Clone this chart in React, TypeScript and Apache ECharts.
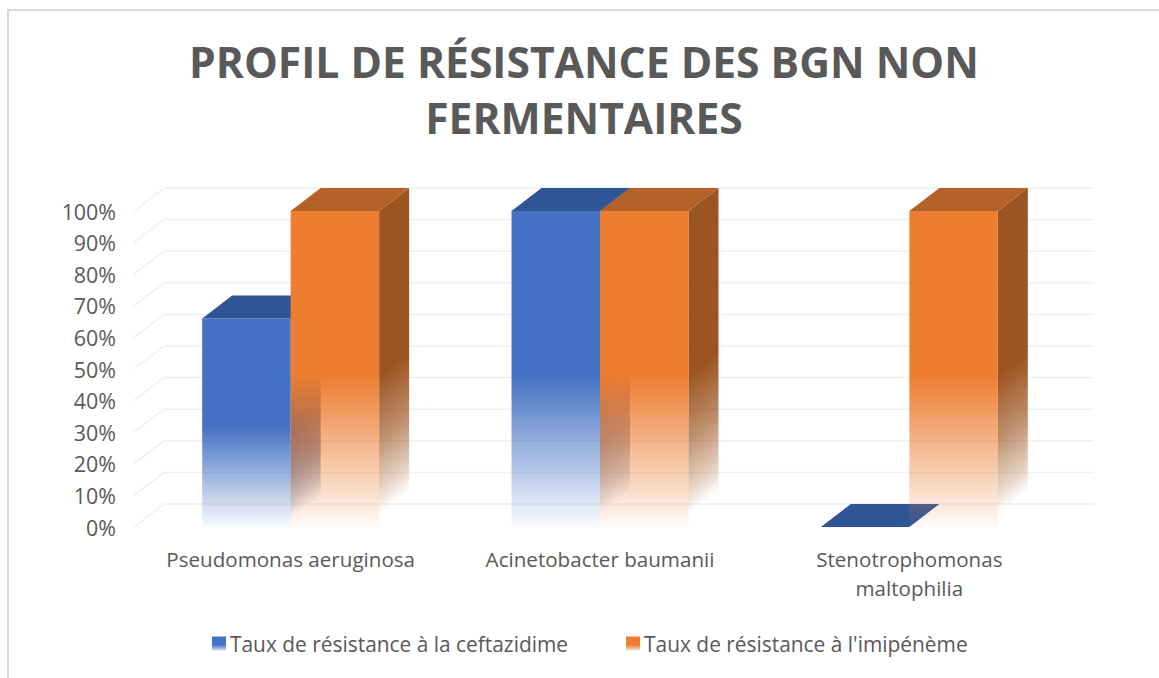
import React, { useEffect, useRef } from "react";
import * as echarts from "echarts";

const titleText = "PROFIL DE RÉSISTANCE DES BGN NON\nFERMENTAIRES";
const categories = ["Pseudomonas aeruginosa", "Acinetobacter baumanii", "Stenotrophomonas\nmaltophilia"];
const seriesNames = ["Taux de résistance à la ceftazidime", "Taux de résistance à l'imipénème"];
const ceftazidime = [66, 100, 0];
const imipeneme = [100, 100, 100];
const gridTicks = [0, 10, 20, 30, 40, 50, 60, 70, 80, 90, 100];

const FONT = "'Open Sans', sans-serif";
const DX = 30;
const DY = -23;

const fade = (rgb: string, start: number, endAlpha = 0.03) =>
  new echarts.graphic.LinearGradient(0, 0, 0, 1, [
    { offset: 0, color: `rgba(${rgb},1)` },
    { offset: start, color: `rgba(${rgb},1)` },
    { offset: 1, color: `rgba(${rgb},${endAlpha})` },
  ]);

// Side face fade: the iso-lines follow the depth direction, as in the 3D reflection
const sideFade = (rgb: string, x: number, top: number, h: number) => {
  const a = -DY / DX / h;
  const b = 1 / h;
  const n = a * a + b * b;
  return new echarts.graphic.LinearGradient(
    x,
    top,
    x + a / n,
    top + b / n,
    [
      { offset: 0, color: `rgba(${rgb},1)` },
      { offset: 0.52, color: `rgba(${rgb},1)` },
      { offset: 0.725, color: `rgba(${rgb},0.65)` },
      { offset: 0.883, color: `rgba(${rgb},0.25)` },
      { offset: 0.96, color: `rgba(${rgb},0)` },
    ],
    true
  );
};

const palette = [
  { front: "68,114,196", side: "47,85,151", top: "#2f5597", legend: "68,114,196" },
  { front: "237,125,49", side: "156,84,32", top: "#b5612a", legend: "237,125,49" },
];

const barRender = (idx: number) => (params: any, api: any) => {
  const cat = api.value(0);
  const val = api.value(1);
  const base = api.coord([cat, 0]);
  const top = api.coord([cat, val]);
  const w = api.size([1, 0])[0] * 0.286;
  const x0 = base[0] + (idx === 0 ? -w : 0);
  const x1 = x0 + w;
  const c = palette[idx];
  const h = base[1] - top[1];
  const children: any[] = [];
  if (val > 0) {
    children.push({
      type: "polygon",
      shape: { points: [[x1, top[1]], [x1 + DX, top[1] + DY], [x1 + DX, base[1] + DY], [x1, base[1]]] },
      style: { fill: sideFade(c.side, x1, top[1], h) },
    });
    children.push({
      type: "rect",
      shape: { x: x0, y: top[1], width: w, height: h },
      style: { fill: fade(c.front, 0.52, 0.03) },
    });
  }
  children.push({
    type: "polygon",
    shape: { points: [[x0, top[1]], [x0 + DX, top[1] + DY], [x1 + DX, top[1] + DY], [x1, top[1]]] },
    style: { fill: c.top },
  });
  return { type: "group", children };
};

const gridRender = (params: any, api: any) => {
  const y = api.coord([0, api.value(0)])[1];
  const cs = params.coordSys;
  return {
    type: "polyline",
    shape: { points: [[cs.x - 2, y], [cs.x + DX - 2, y + DY], [cs.x + cs.width + DX, y + DY]] },
    style: { fill: "none", stroke: "#f0f0f0", lineWidth: 1.5 },
  };
};

export default function App() {
  const ref = useRef<HTMLDivElement>(null);
  useEffect(() => {
    const chart = echarts.init(ref.current!, undefined, { renderer: "svg" });
    chart.setOption({
      animation: false,
      backgroundColor: "#ffffff",
      title: {
        text: titleText,
        left: 579,
        top: 28,
        textAlign: "center",
        textStyle: { fontFamily: FONT, fontSize: 42.6, fontWeight: "bold", color: "#595959", lineHeight: 56 },
      },
      legend: {
        left: 207,
        top: 628,
        itemWidth: 14,
        itemHeight: 14,
        itemGap: 58,
        icon: "rect",
        textStyle: { fontFamily: FONT, fontSize: 20.9, color: "#595959", padding: [0, 0, 0, -1] },
        data: [
          { name: seriesNames[0], itemStyle: { color: fade(palette[0].legend, 0.6, 0.2) } },
          { name: seriesNames[1], itemStyle: { color: fade(palette[1].legend, 0.6, 0.2) } },
        ],
      },
      grid: { left: 136, top: 211, width: 928, height: 316 },
      xAxis: {
        type: "category",
        data: categories,
        axisLine: { show: false },
        axisTick: { show: false },
        axisLabel: {
          interval: 0,
          margin: 17,
          fontFamily: FONT,
          fontSize: 20.6,
          color: "#595959",
          lineHeight: 29,
        },
      },
      yAxis: {
        type: "value",
        min: 0,
        max: 100,
        interval: 10,
        axisLine: { show: false },
        axisTick: { show: false },
        splitLine: { show: false },
        axisLabel: {
          margin: 20,
          fontFamily: FONT,
          fontSize: 21.4,
          color: "#595959",
          formatter: (v: number) => `${v}%`,
        },
      },
      graphic: [
        {
          type: "polyline",
          shape: { points: [[8, 678], [8, 10], [1159, 10]] },
          style: { fill: "none", stroke: "#d9d9d9", lineWidth: 2 },
          silent: true,
        },
      ],
      series: [
        {
          type: "custom",
          name: "grille",
          renderItem: gridRender,
          data: gridTicks.map((t) => [t]),
          encode: { y: 0 },
          silent: true,
          z: 1,
        },
        {
          type: "custom",
          name: seriesNames[0],
          renderItem: barRender(0),
          data: ceftazidime.map((v, i) => [i, v]),
          encode: { x: 0, y: 1 },
          itemStyle: { color: "#4472c4" },
          z: 2,
        },
        {
          type: "custom",
          name: seriesNames[1],
          renderItem: barRender(1),
          data: imipeneme.map((v, i) => [i, v]),
          encode: { x: 0, y: 1 },
          itemStyle: { color: "#ed7d31" },
          z: 3,
        },
      ],
    });
    return () => chart.dispose();
  }, []);
  return (
    <div
      ref={ref}
      style={{ position: "fixed", left: 0, top: 0, width: 1159, height: 678, overflow: "hidden" }}
    />
  );
}
